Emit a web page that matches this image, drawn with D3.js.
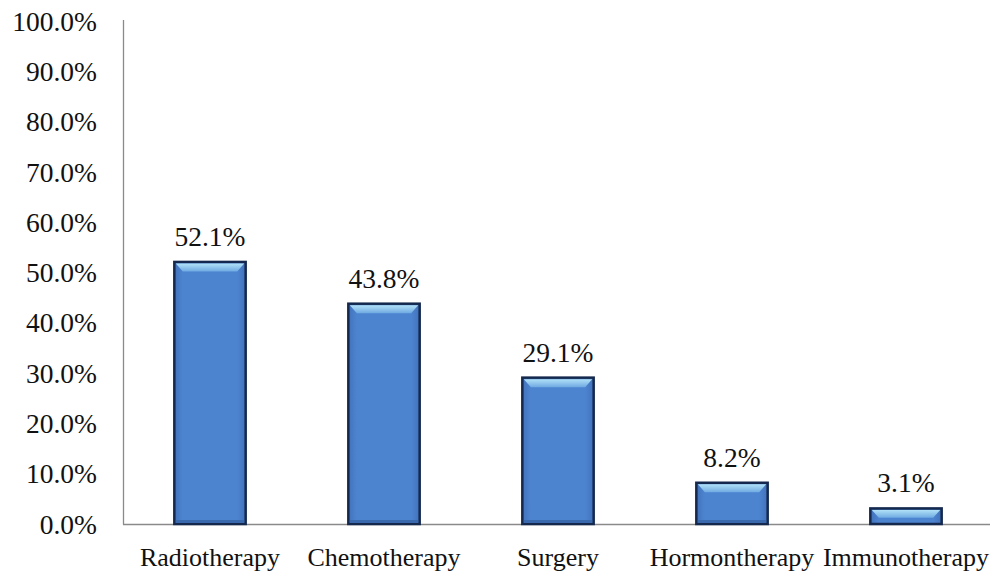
<!DOCTYPE html>
<html><head><meta charset="utf-8">
<script src="https://cdn.jsdelivr.net/npm/d3@7"></script>
<style>body{margin:0;background:#fff}svg{display:block}</style>
</head><body>
<svg id="c" width="992" height="572"></svg>
<script>
const categories = ["Radiotherapy","Chemotherapy","Surgery","Hormontherapy","Immunotherapy"];
const values = [52.1, 43.8, 29.1, 8.2, 3.1];
const yTicks = [0,10,20,30,40,50,60,70,80,90,100];

const svg = d3.select("#c");
const font = "'Liberation Serif', serif";
const x = d3.scaleBand().domain(categories).range([123, 993]).paddingInner(0.59).paddingOuter(0.295);
const y = d3.scaleLinear().domain([0,100]).range([524, 21]);

const defs = svg.append("defs");
const g1 = defs.append("linearGradient").attr("id","body").attr("x1","0").attr("x2","1").attr("y1","0").attr("y2","0");
g1.append("stop").attr("offset","0").attr("stop-color","#4272bb");
g1.append("stop").attr("offset","0.12").attr("stop-color","#4d84d0");
g1.append("stop").attr("offset","0.88").attr("stop-color","#4d84d0");
g1.append("stop").attr("offset","1").attr("stop-color","#4272bb");
const g2 = defs.append("linearGradient").attr("id","top").attr("x1","0").attr("x2","0").attr("y1","0").attr("y2","1");
g2.append("stop").attr("offset","0").attr("stop-color","#b2e2f7");
g2.append("stop").attr("offset","1").attr("stop-color","#6faae2");

// axes
svg.append("line").attr("x1",123.5).attr("x2",123.5).attr("y1",20).attr("y2",524.5).attr("stroke","#8a8a8a").attr("stroke-width",1.3);
svg.append("line").attr("x1",123).attr("x2",990).attr("y1",524.5).attr("y2",524.5).attr("stroke","#8a8a8a").attr("stroke-width",1.3);

svg.append("g").selectAll("text").data(yTicks).join("text")
  .attr("x",97).attr("y",d=>y(d)).attr("dy","0.35em").attr("text-anchor","end")
  .attr("font-family",font).attr("font-size",27.5).attr("fill","#111")
  .text(d=>d.toFixed(1)+"%");

svg.append("g").selectAll("text").data(categories).join("text")
  .attr("x",d=>x(d)+x.bandwidth()/2).attr("y",566).attr("text-anchor","middle")
  .attr("font-family",font).attr("font-size",26).attr("fill","#111")
  .text(d=>d);

const bars = svg.append("g").selectAll("g").data(categories.map((c,i)=>({c,v:values[i]}))).join("g");
bars.append("rect")
  .attr("x",d=>x(d.c)).attr("y",d=>y(d.v)).attr("width",x.bandwidth()).attr("height",d=>y(0)-y(d.v))
  .attr("fill","url(#body)").attr("stroke","#14294d").attr("stroke-width",2.5);
bars.append("path")
  .attr("d",d=>{
    const x0=x(d.c)+1.5, x1=x(d.c)+x.bandwidth()-1.5, t=y(d.v)+1.5, h=Math.min(8, (y(0)-y(d.v))/2);
    return `M${x0},${t}L${x1},${t}L${x1-7},${t+h}L${x0+7},${t+h}Z`;
  }).attr("fill","url(#top)");
bars.append("rect")
  .attr("x",d=>x(d.c)+1.5).attr("y",y(0)-4).attr("width",x.bandwidth()-3).attr("height",3)
  .attr("fill","#3b69ad").attr("opacity",d=>d.v>5?1:0);

bars.append("text")
  .attr("x",d=>x(d.c)+x.bandwidth()/2).attr("y",d=>y(d.v)-16).attr("text-anchor","middle")
  .attr("font-family",font).attr("font-size",27.5).attr("fill","#111")
  .text(d=>d.v.toFixed(1)+"%");
</script>
</body></html>
